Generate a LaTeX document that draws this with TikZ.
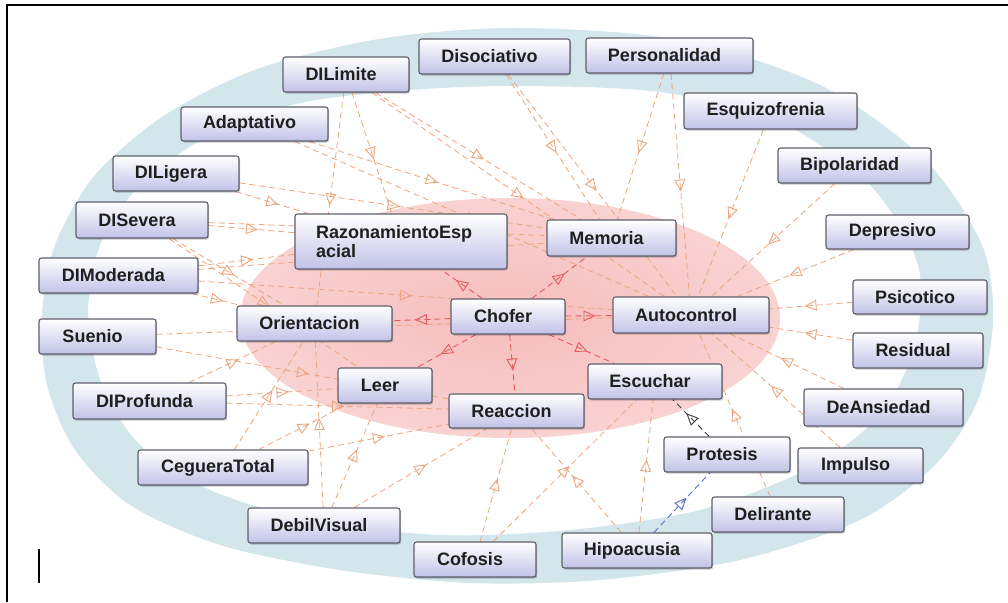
\documentclass[tikz,border=0pt]{standalone}
\usepackage{fontspec}
\setmainfont{Liberation Sans}
\usetikzlibrary{decorations.markings,shadows}
\definecolor{ringc}{RGB}{210,230,235}
\definecolor{edgeo}{RGB}{236,165,125}
\definecolor{edger}{RGB}{224,92,92}
\definecolor{edgeb}{RGB}{90,110,200}
\definecolor{edgek}{RGB}{60,60,60}
\definecolor{boxlo}{RGB}{194,194,232}
\definecolor{boxbd}{RGB}{95,95,108}
\definecolor{pka}{RGB}{246,188,188}
\definecolor{pkb}{RGB}{249,210,210}
\definecolor{pkc}{RGB}{252,234,234}
\definecolor{pkd}{RGB}{253,244,244}
\pgfdeclareradialshading{pinkglow}{\pgfpoint{0bp}{0bp}}{color(0bp)=(pka); color(25bp)=(pkb); color(45bp)=(pkc); color(50bp)=(pkd)}
\pgfdeclarelayer{back}
\pgfdeclarelayer{edges}
\pgfsetlayers{back,edges,main}
\tikzset{
  box/.style={draw=boxbd, line width=1.1pt, rounded corners=2.5pt, top color=white, bottom color=boxlo,
    inner sep=0pt, font=\fontsize{18}{19.5}\selectfont\bfseries, text=black!88,
    drop shadow={shadow xshift=1.2pt, shadow yshift=-1.5pt, opacity=0.22, fill=black}},
  sbox/.style={box, execute at begin node={\hspace*{-10pt}}},
  tri/.style={decoration={markings, mark=at position 0.5 with {\draw[solid, line width=0.9pt, draw=#1, fill=none, line join=miter] (5.5pt,0pt) -- (-5pt,4.8pt) -- (-5pt,-4.8pt) -- cycle;}}, postaction={decorate}},
  oe/.style={draw=edgeo, line width=0.8pt, dash pattern=on 6pt off 4pt, tri=edgeo},
  re/.style={draw=edger, line width=0.9pt, dash pattern=on 6pt off 4pt, tri=edger},
  ke/.style={draw=edgek, line width=0.9pt, dash pattern=on 6pt off 4pt, tri=edgek},
  be/.style={draw=edgeb, line width=0.9pt, dash pattern=on 6pt off 4pt, tri=edgeb},
}
\begin{document}
\begin{tikzpicture}[x=1pt,y=-1pt]
\useasboundingbox (0,0) rectangle (1008,602);
\begin{pgfonlayer}{back}
\fill[white] (0,0) rectangle (1008,602);
\fill[ringc, even odd rule]
  plot[smooth cycle] coordinates {(520,28) (680,40) (820,85) (925,160) (982,245) (993,320) (978,400) (935,465) (860,520) (740,560) (600,580) (470,583) (340,570) (220,545) (130,505) (75,450) (47,385) (42,315) (55,245) (95,175) (165,115) (260,68) (385,38)}
  plot[smooth cycle] coordinates {(520,86) (660,92) (780,122) (870,185) (918,265) (915,345) (880,415) (810,468) (700,510) (570,530) (440,535) (310,520) (210,490) (140,445) (102,385) (88,315) (100,245) (140,185) (210,135) (300,103) (410,90)};
\shade[shading=pinkglow] (510,318) ellipse [x radius=270pt, y radius=120pt];
\draw[line width=2pt] (7,602) -- (7,5.5) -- (1008,5.5);
\draw[line width=1.3pt] (39,549) -- (39,583);
\end{pgfonlayer}

% outer nodes
\node[sbox, minimum width=126pt, minimum height=35pt] (dlim) at (346,74.5) {DILimite};
\node[sbox, minimum width=151pt, minimum height=35pt] (diso) at (494.5,56.5) {Disociativo};
\node[sbox, minimum width=167pt, minimum height=35pt] (pers) at (669.5,55.5) {Personalidad};
\node[sbox, minimum width=173pt, minimum height=36pt] (esq) at (770.5,111) {Esquizofrenia};
\node[sbox, minimum width=153pt, minimum height=35pt] (bip) at (854.5,165.5) {Bipolaridad};
\node[sbox, minimum width=143pt, minimum height=34pt] (dep) at (897.5,232) {Depresivo};
\node[sbox, minimum width=134pt, minimum height=34pt] (psi) at (920,297) {Psicotico};
\node[sbox, minimum width=130pt, minimum height=35pt] (res) at (918,350.5) {Residual};
\node[sbox, minimum width=159pt, minimum height=37pt] (dea) at (883.5,407.5) {DeAnsiedad};
\node[sbox, minimum width=125pt, minimum height=35pt] (imp) at (860.5,465.5) {Impulso};
\node[sbox, minimum width=132pt, minimum height=35pt] (del) at (778,514.5) {Delirante};
\node[sbox, minimum width=150pt, minimum height=35pt] (hip) at (637,550.5) {Hipoacusia};
\node[sbox, minimum width=122pt, minimum height=35pt] (cof) at (475,559.5) {Cofosis};
\node[sbox, minimum width=152pt, minimum height=35pt] (deb) at (324,525.5) {DebilVisual};
\node[sbox, minimum width=170pt, minimum height=35pt] (ceg) at (223,467.5) {CegueraTotal};
\node[sbox, minimum width=153pt, minimum height=36pt] (dpro) at (149.5,401) {DIProfunda};
\node[sbox, minimum width=117pt, minimum height=35pt] (sue) at (97.5,336.5) {Suenio};
\node[sbox, minimum width=159pt, minimum height=35pt] (dmod) at (118.5,275.5) {DIModerada};
\node[sbox, minimum width=132pt, minimum height=36pt] (dsev) at (142,220) {DISevera};
\node[sbox, minimum width=126pt, minimum height=35pt] (dlig) at (176,173.5) {DILigera};
\node[sbox, minimum width=147pt, minimum height=34pt] (ada) at (254.5,124) {Adaptativo};
\node[sbox, minimum width=126pt, minimum height=35pt] (pro) at (727,454.5) {Protesis};
% inner nodes
\node[box, minimum width=212pt, minimum height=55pt, text width=170pt, align=left] (raz) at (401,241.5) {RazonamientoEsp\\acial};
\node[sbox, minimum width=129pt, minimum height=36pt] (mem) at (611.5,238) {Memoria};
\node[sbox, minimum width=155pt, minimum height=35pt] (ori) at (314.5,323.5) {Orientacion};
\node[sbox, minimum width=114pt, minimum height=35pt] (cho) at (508,316.5) {Chofer};
\node[sbox, minimum width=156pt, minimum height=36pt] (aut) at (691,315) {Autocontrol};
\node[sbox, minimum width=94pt, minimum height=35pt] (lee) at (385,385.5) {Leer};
\node[sbox, minimum width=135pt, minimum height=34pt] (rea) at (516.5,411) {Reaccion};
\node[sbox, minimum width=134pt, minimum height=35pt] (esc) at (655,381.5) {Escuchar};

\begin{pgfonlayer}{edges}
\draw[oe] (dlim) -- (ori);
\draw[oe] (dlim) -- (raz);
\draw[oe] (dlim) -- (mem);
\draw[oe] (dlim) -- (aut);
\draw[oe] (diso) -- (mem);
\draw[oe] (diso) -- (aut);
\draw[oe] (pers) -- (mem);
\draw[oe] (pers) -- (aut);
\draw[oe] (esq) -- (aut);
\draw[oe] (bip) -- (aut);
\draw[oe] (dep) -- (aut);
\draw[oe] (psi) -- (aut);
\draw[oe] (res) -- (aut);
\draw[oe] (dea) -- (aut);
\draw[oe] (imp) -- (aut);
\draw[oe] (del) -- (aut);
\draw[oe] (ada) -- (mem);
\draw[oe] (ada) -- (aut);
\draw[oe] (dlig) -- (raz);
\draw[oe] (dlig) -- (mem);
\draw[oe] (dsev) -- (raz);
\draw[oe] (dsev) -- (mem);
\draw[oe] (dsev) -- (ori);
\draw[oe] (dsev) -- (lee);
\draw[oe] (dmod) -- (raz);
\draw[oe] (dmod) -- (ori);
\draw[oe] (dmod) -- (aut);
\draw[oe] (dmod) -- (mem);
\draw[oe] (sue) -- (rea);
\draw[oe] (sue) -- (aut);
\draw[oe] (dpro) -- (lee);
\draw[oe] (dpro) -- (ori);
\draw[oe] (dpro) -- (rea);
\draw[oe] (ceg) -- (lee);
\draw[oe] (ceg) -- (ori);
\draw[oe] (ceg) -- (rea);
\draw[oe] (deb) -- (lee);
\draw[oe] (deb) -- (ori);
\draw[oe] (deb) -- (rea);
\draw[oe] (cof) -- (rea);
\draw[oe] (cof) -- (esc);
\draw[oe] (hip) -- (rea);
\draw[oe] (hip) -- (esc);
\draw[re] (cho) -- (ori);
\draw[re] (cho) -- (aut);
\draw[re] (cho) -- (mem);
\draw[re] (cho) -- (raz);
\draw[re] (cho) -- (lee);
\draw[re] (cho) -- (rea);
\draw[re] (cho) -- (esc);
\draw[ke] (pro) -- (esc);
\draw[be] (hip) -- (pro);
\end{pgfonlayer}
\end{tikzpicture}
\end{document}
